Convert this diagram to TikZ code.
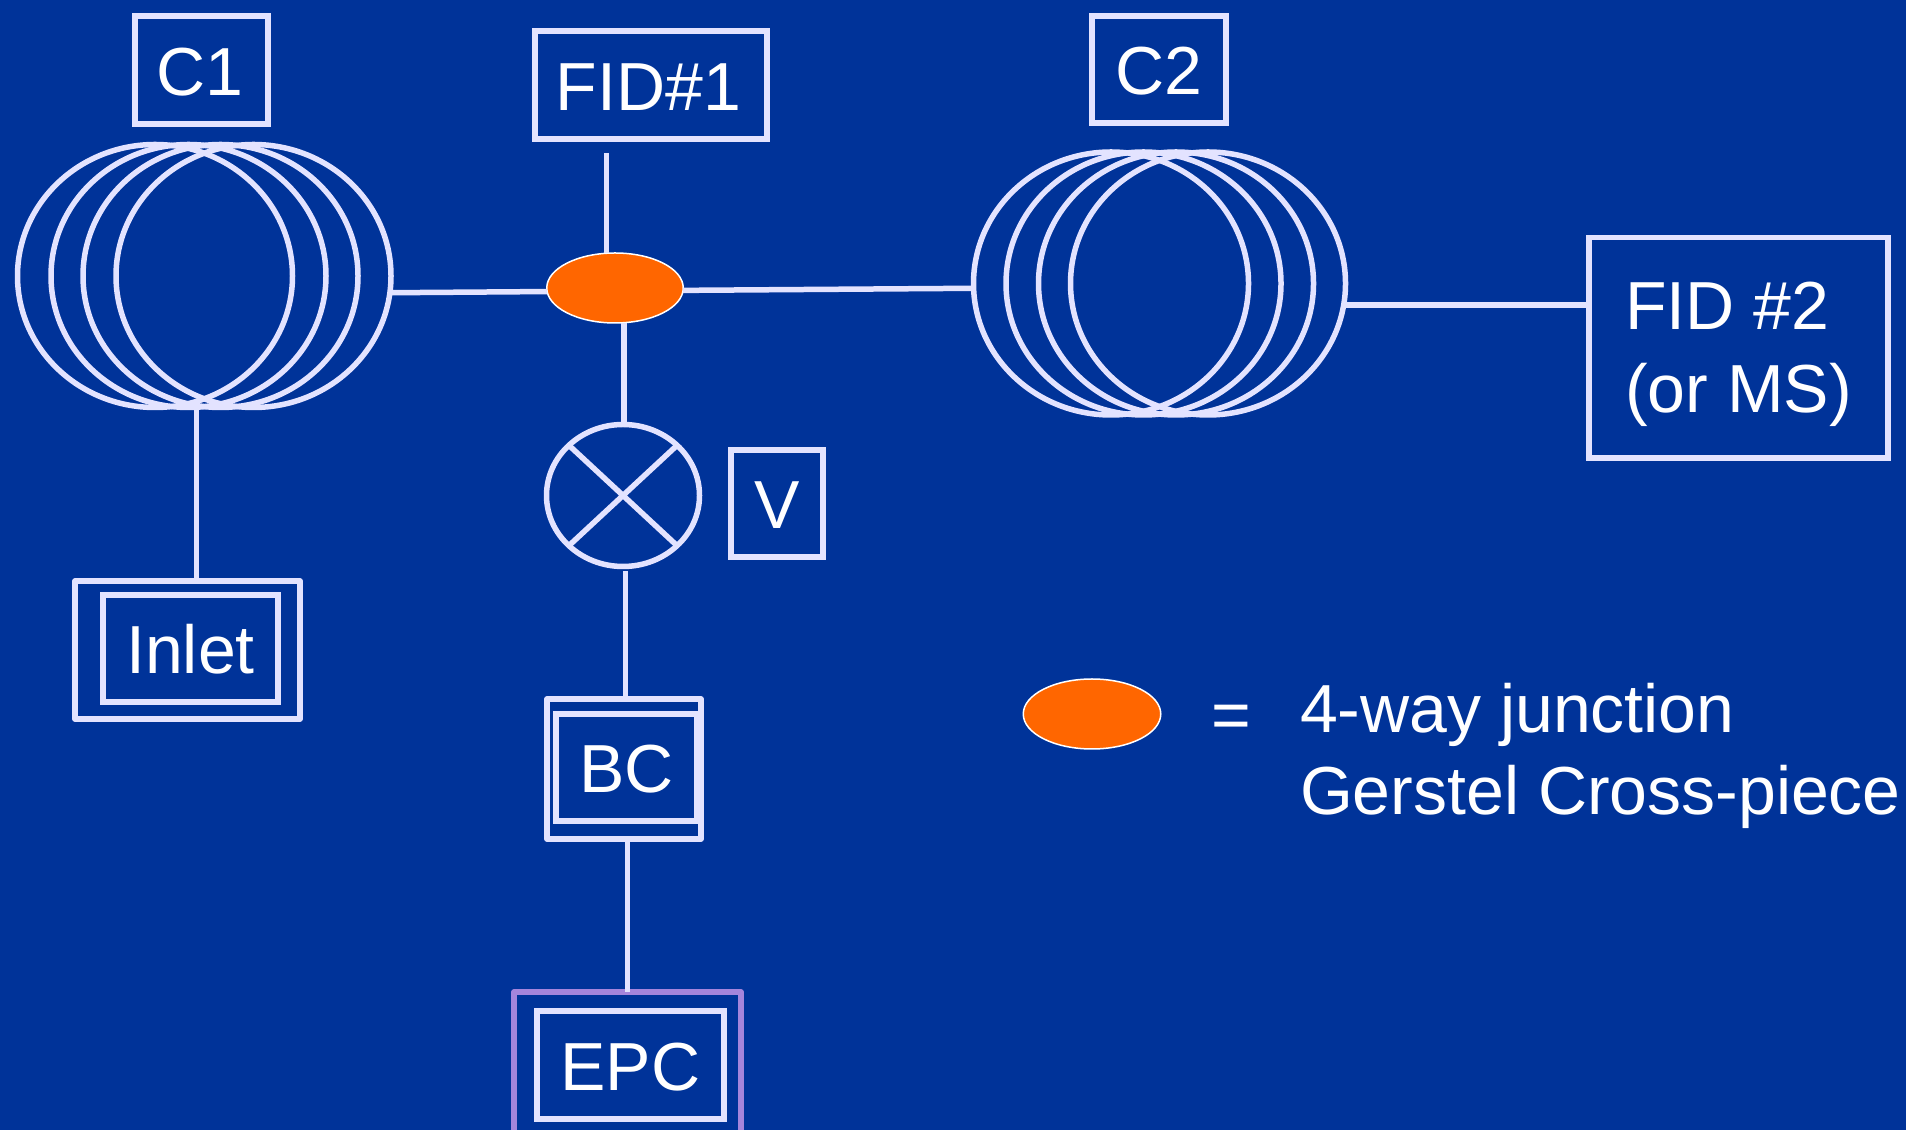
\documentclass[tikz,border=0pt]{standalone}
\usepackage{fontspec}
\setmainfont{Liberation Sans}
\usepackage{tikz}
\usetikzlibrary{shapes.geometric}
\definecolor{bgblue}{HTML}{003399}
\definecolor{pipe}{HTML}{E3E3FF}
\definecolor{jorange}{HTML}{FF6600}
\definecolor{epcpurple}{HTML}{A585DC}
\tikzstyle{txt} = [text=white,inner sep=0,outer sep=0,font=\fontsize{19.35pt}{23.3pt}\selectfont]
\tikzstyle{box} = [txt,draw=pipe,line width=0.055cm,rectangle]
\tikzstyle{lbl} = [box,text height=0.51cm,text depth=0cm]
\tikzstyle{outbox} = [box,line join=round]
\tikzstyle{coil} = [draw=pipe,line width=0.055cm,ellipse,inner sep=0,outer sep=0,minimum width=2.75cm,minimum height=2.63cm]
\tikzstyle{junction} = [draw=white,fill=jorange,line width=0.015cm,ellipse,inner sep=0,outer sep=0,minimum height=0.7cm]
\tikzstyle{pipeline} = [draw=pipe,line width=0.055cm]

\begin{document}
\begin{tikzpicture}
\useasboundingbox (0,0) rectangle (19.06,-11.30);
\fill [bgblue] (0,0) rectangle (19.06,-11.30);

\coordinate (C1foot) at (1.967,-4.09);
\coordinate (FID1foot) at (6.066,-1.53);
\coordinate (Jfoot) at (6.24,-3.235);
\coordinate (Vfoot) at (6.257,-5.71);

\foreach \n/\x in {a/1.55,b/1.885,c/2.205,d/2.535} \node [coil] (C1\n) at (\x,-2.76) {};
\foreach \n/\x in {a/11.11,b/11.435,c/11.76,d/12.08} \node [coil] (C2\n) at (\x,-2.835) {};

\node [lbl,minimum width=1.33cm,minimum height=1.08cm] (C1) at (2.015,-0.70) {C1\kern0.04cm};
\node [lbl,minimum width=2.32cm,minimum height=1.08cm] (FID1) at (6.51,-0.85) {FID\#1\kern0.05cm};
\node [lbl,minimum width=1.34cm,minimum height=1.07cm] (C2) at (11.59,-0.695) {C2};
\node [box,minimum width=2.99cm,minimum height=2.205cm,align=left,text depth=0.02cm] (FID2) at (17.385,-3.48) {FID \#2\\[0.015cm](or MS)};
\node [lbl,minimum width=0.92cm,minimum height=1.07cm] (Vlabel) at (7.77,-5.035) {V};

\node [junction,minimum width=1.365cm] (J) at (6.15,-2.88) {};
\node [draw=pipe,line width=0.055cm,ellipse,inner sep=0,outer sep=0,minimum width=1.53cm,minimum height=1.42cm] (V) at (6.23,-4.955) {};

\node [outbox,minimum width=2.25cm,minimum height=1.38cm] (INLETout) at (1.875,-6.50) {};
\node [lbl,minimum width=1.75cm,minimum height=1.07cm] (INLET) at (1.905,-6.485) {Inlet};
\node [outbox,minimum width=1.54cm,minimum height=1.40cm] (BCout) at (6.24,-7.69) {};
\node [lbl,minimum width=1.41cm,minimum height=1.07cm] (BC) at (6.265,-7.675) {BC};
\node [outbox,draw=epcpurple,minimum width=2.27cm,minimum height=1.41cm] (EPCout) at (6.275,-10.625) {};
\node [lbl,minimum width=1.87cm,minimum height=1.08cm] (EPC) at (6.305,-10.65) {EPC};

\draw [pipeline] (C1d.-7.2) -- (J.183);
\draw [pipeline] (J.-2) -- (C2a.182);
\draw [pipeline] (C2d.-9.5) -- (C2d.-9.5 -| FID2.west);
\draw [pipeline] (C1foot) -- (C1foot |- INLETout.north);
\draw [pipeline] (FID1foot) -- (FID1foot |- J.north);
\draw [pipeline] (Jfoot) -- (Jfoot |- V.north);
\draw [pipeline] (Vfoot) -- (Vfoot |- BCout.north);
\draw [pipeline] (EPCout.north) -- (EPCout.north |- BCout.south);
\draw [pipeline] (V.north west) -- (V.south east);
\draw [pipeline] (V.north east) -- (V.south west);

\node [junction,minimum width=1.375cm] (LEG) at (10.92,-7.14) {};
\node [txt,anchor=base] (EQ) at (12.31,-7.387) {=};
\node [txt,anchor=base west,align=left] (LEGtext) at (13.00,-8.145) {4-way junction\\Gerstel Cross-piece};
\end{tikzpicture}
\end{document}
